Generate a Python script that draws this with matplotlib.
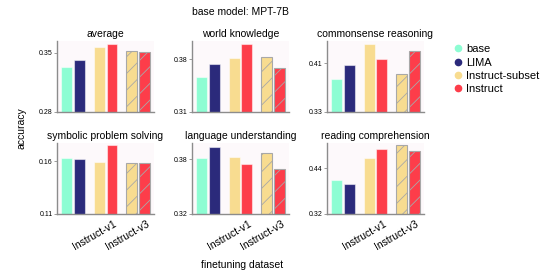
import matplotlib
matplotlib.use("Agg")
import matplotlib.pyplot as plt
from matplotlib.lines import Line2D

plt.rcParams['font.family'] = ['Liberation Sans', 'DejaVu Sans']
plt.rcParams['hatch.linewidth'] = 0.6

# ### accuracy per task, base model MPT-7B

tasks = ["average", "world knowledge", "commonsense reasoning",
         "symbolic problem solving", "language understanding", "reading comprehension"]
series = ["base", "LIMA", "Instruct-subset", "Instruct"]
colors = ["#8dfdd3", "#2b2a7b", "#f8dc90", "#fd3d4a"]
datasets = ["Instruct-v1", "Instruct-v3"]

base = [0.333, 0.3565, 0.3842, 0.1632, 0.3818, 0.4089]
lima = [0.341, 0.3738, 0.4067, 0.1619, 0.3938, 0.3973]
subset_v1 = [0.3565, 0.3817, 0.4422, 0.1593, 0.3822, 0.4658]
instruct_v1 = [0.3604, 0.4007, 0.4166, 0.1758, 0.3750, 0.4907]
subset_v3 = [0.352, 0.383, 0.3924, 0.1584, 0.3873, 0.5005]
instruct_v3 = [0.3514, 0.368, 0.4297, 0.159, 0.3696, 0.4853]

y_bottom = [0.28, 0.31, 0.33, 0.11, 0.32, 0.32]
y_mid = [0.35, 0.38, 0.41, 0.16, 0.38, 0.44]

fig, axes = plt.subplots(2, 3, figsize=(5.5, 2.75), dpi=100)
fig.subplots_adjust(left=0.1036, right=0.771, top=0.851, bottom=0.222,
                    wspace=0.39, hspace=0.44)

pos = [0, 1, 2.5, 3.5, 5, 6]
width = 0.85
edge = (1, 1, 1, 0.5)

for i, ax in enumerate(axes.flat):
    vals = [base[i], lima[i], subset_v1[i], instruct_v1[i], subset_v3[i], instruct_v3[i]]
    cols = [colors[0], colors[1], colors[2], colors[3], colors[2], colors[3]]
    for j in range(6):
        if j >= 4:
            ax.bar(pos[j], vals[j], width, color=cols[j], edgecolor="#a8a8a8",
                   hatch="//", linewidth=0.8)
        else:
            ax.bar(pos[j], vals[j], width, color=cols[j], edgecolor=edge, linewidth=0.8)
    ax.set_facecolor("#fdf9fb")
    ax.set_ylim(y_bottom[i], max(vals) * 1.01)
    ax.set_yticks([y_bottom[i], y_mid[i]])
    ax.set_yticklabels([f"{y_bottom[i]:.2f}", f"{y_mid[i]:.2f}"])
    ax.set_title(tasks[i], fontsize=7.5, pad=3)
    for s in ["top", "right"]:
        ax.spines[s].set_visible(False)
    for s in ["left", "bottom"]:
        ax.spines[s].set_color("#8c8c8c")
        ax.spines[s].set_linewidth(1.0)
    ax.tick_params(axis="y", labelsize=5, length=2, width=0.6, color="#8c8c8c", pad=1)
    ax.tick_params(axis="x", length=0)
    ax.set_xticks([pos[3] + 0.5, pos[5] + 0.5])
    if i >= 3:
        ax.set_xticklabels(datasets, rotation=30, ha="right", fontsize=7.5)
    else:
        ax.set_xticklabels([])

fig.suptitle("base model: MPT-7B", fontsize=7.5, x=0.437, y=0.975)
fig.supylabel("accuracy", fontsize=7.5, x=0.03, y=0.535)
fig.supxlabel("finetuning dataset", fontsize=7.5, x=0.44, y=0.02)

handles = [Line2D([], [], marker="o", linestyle="", markersize=4.5,
                  markerfacecolor=c, markeredgecolor=c) for c in colors]
fig.legend(handles, series, loc="upper left", bbox_to_anchor=(0.815, 0.855),
           frameon=False, fontsize=8, handletextpad=0.2, labelspacing=0.3,
           handlelength=1.0, borderaxespad=0)

fig.savefig("out.png", dpi=100)
